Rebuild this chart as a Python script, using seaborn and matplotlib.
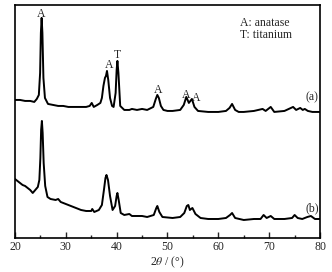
import matplotlib
matplotlib.use("Agg")
import matplotlib.pyplot as plt
import seaborn as sns
import pandas as pd
from matplotlib.ticker import MultipleLocator

# 2theta / intensity (a)
two_theta_a = [20, 21, 22, 23, 23.8, 24.3, 24.7, 24.95, 25.1, 25.25, 25.4, 25.6, 25.9, 26.5, 27.5,
               28.5, 29.5, 30.5, 32, 33, 34, 34.7, 35.1, 35.5, 36.2, 36.8, 37.1, 37.4, 37.7,
               37.9, 38.1, 38.35, 38.7, 39.1, 39.4, 39.8, 40.0, 40.15, 40.35, 40.7, 41.5,
               42.5, 43, 44, 45, 46, 47.2, 47.7, 48.0, 48.3, 48.7, 49.2, 50, 51, 52.5, 53.2,
               53.7, 54.2, 54.8, 55.3, 56, 58, 60, 61.5, 62.2, 62.7, 63.3, 64, 65, 67, 68.7,
               69.3, 70.3, 71, 73, 74.7, 75.3, 76.1, 76.6, 77.0, 77.6, 78.5, 80]
intensity_a = [138, 138, 137, 137, 136, 139, 143, 165, 205, 220, 205, 160, 140, 134, 133,
               132, 132, 131, 131, 131, 131, 132, 135, 131, 133, 135, 140, 152, 160,
               162, 167, 158, 140, 132, 131, 145, 168, 177, 165, 132, 128,
               128, 129, 128, 129, 128, 131, 139, 143, 140, 132, 128, 127, 127, 128, 133,
               141, 135, 139, 131, 127, 126, 126, 127, 130, 134, 128, 126, 126, 127, 129,
               127, 131, 126, 127, 131, 128, 130, 128, 129, 127, 126, 126]

# pattern (b)
two_theta_b = [20, 20.5, 21, 21.5, 22, 22.5, 23, 23.5, 24, 24.5, 24.8, 25.0, 25.15, 25.3, 25.45,
               25.65, 25.95, 26.4, 27, 28, 28.5, 29, 30, 31, 32, 33, 34, 35, 35.2, 35.6, 36.5,
               37.1, 37.5, 37.8, 38.0, 38.3, 38.7, 39.2, 39.7, 40.0, 40.15, 40.4, 40.8, 41.5,
               42.5, 43, 45, 46, 47.3, 47.8, 48.0, 48.4, 49, 51, 52.5, 53.3, 53.8, 54.1, 54.4,
               54.9, 55.5, 56.5, 58, 60, 61.5, 62.3, 62.7, 63.3, 65, 67, 68.3, 68.9, 69.5,
               70.3, 71, 73, 74.5, 75, 75.6, 76.5, 77.5, 78.2, 79, 80]
intensity_b = [59, 57, 55, 53, 52, 50, 48, 45, 48, 51, 58, 80, 108, 117, 105,
               75, 52, 41, 39, 38, 39, 36, 34, 32, 30, 28, 27, 27, 29, 26, 28,
               33, 48, 60, 63, 58, 42, 28, 32, 42, 45, 38, 25, 23,
               24, 22, 22, 21, 23, 30, 32, 26, 21, 20, 21, 25, 32, 33, 28,
               30, 24, 20, 19, 19, 20, 23, 25, 20, 18, 19, 19, 23, 20,
               22, 19, 19, 20, 23, 20, 19, 21, 22, 19, 19]

# peak markers
peak_pos = [25.2, 38.5, 40.1, 48.1, 53.6, 55.6]
peak_y = [224, 173, 183, 148, 143, 140]
peak_lbl = ["A", "A", "T", "A", "A", "A"]

sns.set_style("ticks")
plt.rcParams["font.family"] = ["Liberation Serif", "DejaVu Serif"]
plt.rcParams["mathtext.fontset"] = "stix"

fig = plt.figure(figsize=(3.32, 2.72), dpi=100)
ax = fig.add_axes([0.045, 0.125, 0.919, 0.857])

df_a = pd.DataFrame({"x": two_theta_a, "y": intensity_a})
df_b = pd.DataFrame({"x": two_theta_b, "y": intensity_b})
sns.lineplot(data=df_a, x="x", y="y", color="black", lw=1.4, ax=ax, sort=False)
sns.lineplot(data=df_b, x="x", y="y", color="black", lw=1.4, ax=ax, sort=False)

fs = 8.5
for xp, yp, t in zip(peak_pos, peak_y, peak_lbl):
    ax.text(xp, yp, t, ha="center", va="center", fontsize=fs)
ax.text(78.5, 141, "(a)", ha="center", va="center", fontsize=fs)
ax.text(78.5, 30, "(b)", ha="center", va="center", fontsize=fs)
ax.text(64.3, 215, "A: anatase", ha="left", va="center", fontsize=fs)
ax.text(64.3, 203, "T: titanium", ha="left", va="center", fontsize=fs)

ax.set_xlim(20, 80)
ax.set_ylim(0, 233)
ax.xaxis.set_major_locator(MultipleLocator(10))
ax.xaxis.set_minor_locator(MultipleLocator(5))
ax.tick_params(axis="x", which="major", direction="in", length=4, width=1, labelsize=fs, pad=2)
ax.tick_params(axis="x", which="minor", direction="in", length=2.5, width=1)
ax.set_yticks([])
ax.set_ylabel("")
ax.set_xlabel(r"2$\it{\theta}$ / (°)", fontsize=fs, labelpad=1)
for s in ax.spines.values():
    s.set_visible(True)
    s.set_linewidth(1.2)
    s.set_color("black")

fig.savefig("out.png", dpi=100)
